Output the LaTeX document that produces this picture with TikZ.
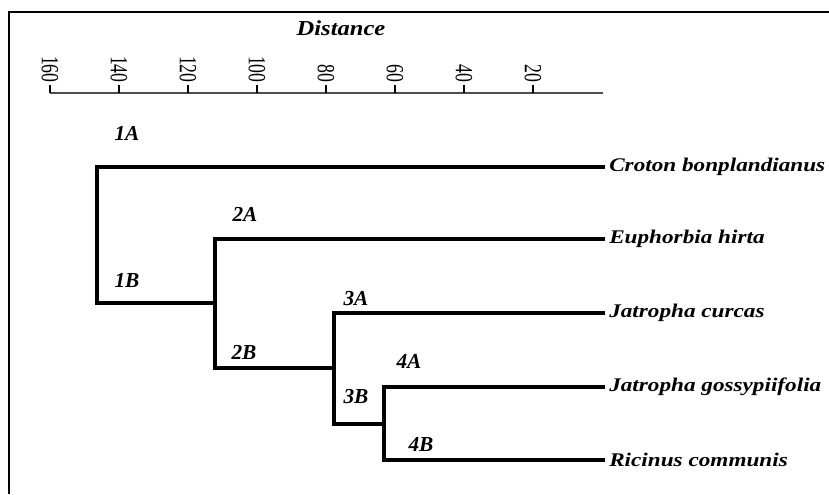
\documentclass[tikz,border=0pt]{standalone}
\usepackage{fontspec}
\setmainfont{Liberation Serif}
\newfontfamily\widefont[FakeStretch=1.2]{Liberation Serif}
\newfontfamily\distfont[FakeStretch=1.15]{Liberation Serif}
\newfontfamily\tickfont[FakeStretch=0.72]{Liberation Serif}
\usetikzlibrary{positioning}

\begin{document}
\begin{tikzpicture}[
		x=0.75pt, y=-0.75pt,
		branch/.style={line width=2.5pt},
		leaf/.style={anchor=west, inner sep=3pt, font=\widefont\bfseries\itshape\fontsize{14.5}{17}\selectfont},
		cut/.style={inner sep=0pt, font=\bfseries\itshape\fontsize{16}{19}\selectfont},
		ticklab/.style={rotate=-90, anchor=east, inner sep=1.5pt, font=\tickfont\fontsize{18.5}{21}\selectfont},
		axisline/.style={line width=1.5pt, draw=black!70}
		]
		\useasboundingbox (0,0) rectangle (829,494);
		% frame
		\draw[line width=0.9pt] (9,494) -- (9,12) -- (829,12);
		
		% distance axis
		\node[font=\distfont\bfseries\itshape\fontsize{16}{19}\selectfont] (dist) at (341,28) {Distance};
		\coordinate (axL) at (50,93);
		\coordinate (axR) at (603,93);
		\draw[axisline] (axL) -- (axR);
		\foreach \d [count=\i from 0] in {160,140,...,20} {
			\coordinate (t\d) at (50+69*\i, 93);
			\coordinate (tt\d) at (50+69*\i, 85);
			\draw[line width=1.3pt] (t\d) -- (tt\d);
			\node[ticklab] (l\d) at (tt\d) {\d};
		}
		
		% leaves
		\node[leaf] (croton) at (605,167) {Croton bonplandianus};
		\node[leaf] (euphorbia) at (605,239) {Euphorbia hirta};
		\node[leaf] (curcas) at (605,313) {Jatropha curcas};
		\node[leaf] (gossyp) at (605,387) {Jatropha gossypiifolia};
		\node[leaf] (ricinus) at (605,460) {Ricinus communis};
		
		% junctions
		\coordinate (j1) at (97,235);
		\coordinate (j2) at (215,303);
		\coordinate (j3) at (334,368);
		\coordinate (j4) at (384,424);
		
		\draw[branch] (croton.west) -| (j1) |- (j2);
		\draw[branch] (euphorbia.west) -| (j2) |- (j3);
		\draw[branch] (curcas.west) -| (j3) |- (j4);
		\draw[branch] (gossyp.west) -| (j4) |- (ricinus.west);
		
		% cluster labels
		\node[cut] (c1A) at (127,133) {1A};
		\node[cut] (c1B) at (127,280) {1B};
		\node[cut] (c2A) at (245,214) {2A};
		\node[cut] (c2B) at (244,352) {2B};
		\node[cut] (c3A) at (356,299) {3A};
		\node[cut] (c3B) at (356,397) {3B};
		\node[cut] (c4A) at (409,361) {4A};
		\node[cut] (c4B) at (421,445) {4B};
\end{tikzpicture}
\end{document}
